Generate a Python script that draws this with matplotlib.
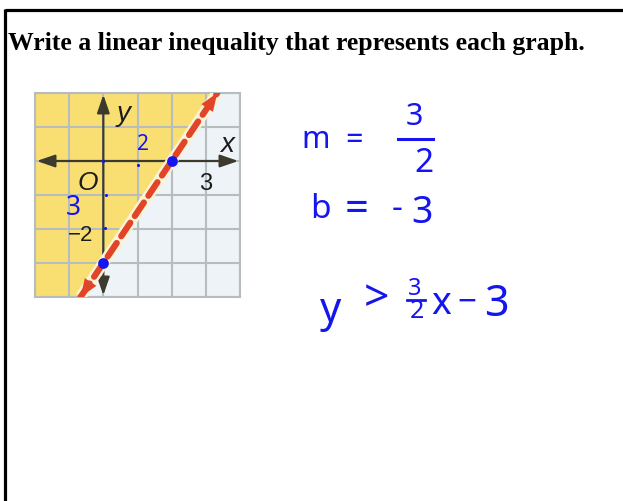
import numpy as np
import matplotlib.pyplot as plt

# 边界线 y = m x + b
slope = 3 / 2
intercept = -3

x_grid = [-2, -1, 0, 1, 2, 3, 4]
y_grid = [-4, -3, -2, -1, 0, 1, 2]
tick_text = ['O', '3', '−2']

# 手写的数格子小点和两个关键点
count_x = [0, 1, 0.08, 0.05]
count_y = [0, -0.12, -1.0, -1.97]
key_x = [2, 0]
key_y = [0, -3]

W, H = 623, 501
ink = '#1515EE'
yellow = '#F9DF72'
pale = '#EEF3F7'
grid_c = '#B7BDBF'
axis_c = '#3B3A2C'

fig = plt.figure(figsize=(W / 100, H / 100), dpi=100)
fig.patch.set_facecolor('white')

# 整页，用像素坐标
page = fig.add_axes([0, 0, 1, 1])
page.set_xlim(0, W)
page.set_ylim(H, 0)
page.axis('off')

page.plot([4.5, W], [9.5, 9.5], color='black', lw=2.3, solid_capstyle='butt')
page.plot([4.5, 4.5], [8.5, H], color='black', lw=2.3, solid_capstyle='butt')

page.text(8, 50, 'Write a linear inequality that represents each graph.',
          family='Liberation Serif', weight='bold', fontsize=18.55,
          ha='left', va='baseline', color='black')

# 右边的手写
hand = dict(family='Noto Sans', color=ink, ha='center', va='center')
page.text(316, 140, 'm', fontsize=22, **hand)
page.text(354, 141, '=', fontsize=22, **hand)
page.text(414, 117, '3', fontsize=22, **hand)
page.plot([398, 433], [139, 139], color=ink, lw=2.2)
page.text(424, 163, '2', fontsize=24, **hand)

page.text(320, 209, 'b', fontsize=24, **hand)
page.text(357, 210, '=', fontsize=30, **hand)
page.text(397, 210, '-', fontsize=24, **hand)
page.text(422, 213, '3', fontsize=27, **hand)

page.text(331, 311, 'y', fontsize=30, **hand)
page.text(376, 300, '>', fontsize=32, **hand)
page.text(415, 289, '3', fontsize=17, **hand)
page.plot([407, 425], [300, 300], color=ink, lw=2)
page.text(417, 312, '2', fontsize=18, **hand)
page.text(441, 304, 'x', fontsize=27, **hand)
page.text(467, 303, '−', fontsize=24, **hand)
page.text(496, 305, '3', fontsize=31, **hand)

# 坐标图
left, top, right, bottom = 35, 93, 240, 297
ax = fig.add_axes([left / W, 1 - bottom / H, (right - left) / W, (bottom - top) / H])
ax.set_xlim(x_grid[0], x_grid[-1])
ax.set_ylim(y_grid[0], y_grid[-1])
ax.set_xticks([])
ax.set_yticks([])
for s in ax.spines.values():
    s.set_color(grid_c)
    s.set_linewidth(1.5)

xs = np.array([x_grid[0], x_grid[-1]], dtype=float)
line_y = slope * xs + intercept
ax.fill_between(xs, line_y, y_grid[-1] + 10, color=yellow, lw=0, zorder=0)
ax.fill_between(xs, y_grid[0] - 10, line_y, color=pale, lw=0, zorder=0)

for gx in x_grid:
    ax.axvline(gx, color=grid_c, lw=1.5, zorder=1)
for gy in y_grid:
    ax.axhline(gy, color=grid_c, lw=1.5, zorder=1)

# 坐标轴带箭头
arrow = dict(arrowstyle='<|-|>,head_length=1.1,head_width=0.38', color=axis_c,
             lw=1.6, shrinkA=0, shrinkB=0)
ax.annotate('', xy=(x_grid[0] + 0.05, 0), xytext=(x_grid[-1] - 0.05, 0),
            arrowprops=arrow, zorder=3)
ax.annotate('', xy=(0, y_grid[-1] - 0.05), xytext=(0, y_grid[0] + 0.05),
            arrowprops=arrow, zorder=3)

# 虚线边界
ends_y = np.array([y_grid[0], y_grid[-1]], dtype=float)
ends_x = (ends_y - intercept) / slope
ax.plot(ends_x, ends_y, color='#FBF3D6', lw=8, zorder=4, solid_capstyle='butt')
ax.plot(ends_x, ends_y, color='#E2442A', lw=4.5, zorder=5,
        dashes=(2.6, 1.3), dash_capstyle='round')
red_arrow = dict(arrowstyle='-|>,head_length=1.3,head_width=0.5', color='#E2442A',
                 lw=0, shrinkA=0, shrinkB=0)
for i, j in [(0, 1), (1, 0)]:
    tip = (ends_x[i], ends_y[i])
    back = (ends_x[i] + 0.3 * (ends_x[j] - ends_x[i]), ends_y[i] + 0.3 * (ends_y[j] - ends_y[i]))
    ax.annotate('', xy=tip, xytext=back, arrowprops=red_arrow, zorder=6)

# 刻度和轴名
lab = dict(family='Liberation Sans', color='#1C1C1C', ha='center', va='center', zorder=7)
ax.text(-0.44, -0.64, tick_text[0], fontsize=19, style='italic', **lab)
ax.text(3.0, -0.67, tick_text[1], fontsize=17, **lab)
ax.text(-0.66, -2.2, tick_text[2], fontsize=16, **lab)
ax.text(0.6, 1.37, 'y', fontsize=20, style='italic', **lab)
ax.text(3.63, 0.46, 'x', fontsize=20, style='italic', **lab)

# 图上的蓝色笔迹
ax.text(1.15, 0.5, '2', fontsize=15, family='Noto Sans', color=ink,
        ha='center', va='center', zorder=8)
ax.text(-0.88, -1.37, '3', fontsize=19, family='Noto Sans', color=ink,
        ha='center', va='center', zorder=8)
ax.scatter(count_x, count_y, s=5, color=ink, zorder=8, lw=0)
ax.scatter(key_x, key_y, s=60, color=ink, zorder=8, lw=0)

fig.savefig('out.png', dpi=100)
